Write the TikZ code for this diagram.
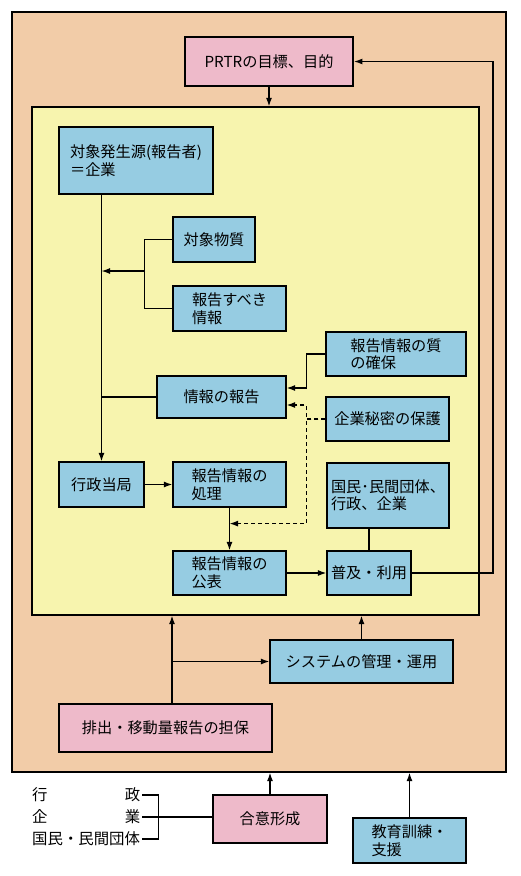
\documentclass[tikz,border=0pt]{standalone}
\usepackage{fontspec}
\setmainfont{Noto Sans CJK JP}
\usetikzlibrary{arrows.meta,positioning,calc}
\definecolor{outerpeach}{RGB}{242,204,168}
\definecolor{inneryellow}{RGB}{247,244,174}
\definecolor{boxblue}{RGB}{150,204,226}
\definecolor{boxpink}{RGB}{238,186,202}

\begin{document}
\begin{tikzpicture}[x=1pt, y=-1pt, >={Latex[length=8.5pt,width=6pt]},
    font=\fontsize{15.2}{17.5}\selectfont,
    block/.style={rectangle, draw, fill=boxblue, line width=1.2pt, align=left, inner sep=2pt},
    goal/.style={block, fill=boxpink, line width=1.9pt},
    frame/.style={rectangle, draw, line width=1.2pt, inner sep=0pt},
    line/.style={line width=1.3pt},
    side/.style={anchor=west, inner sep=0pt, font=\fontsize{15.4}{18}\selectfont}]
    \useasboundingbox (0,0) rectangle (520,876);
    \node [frame, fill=outerpeach, minimum width=494pt, minimum height=760pt] (outer) at (259,392) {};
    \node [frame, fill=inneryellow, minimum width=447pt, minimum height=508pt] (inner) at (255.5,361) {};
    \node [goal, minimum width=168pt, minimum height=49pt] (prtr) at (269,61.5) {PRTRの目標、目的};
    \node [block, minimum width=154pt, minimum height=67pt] (source) at (136,160.5) {対象発生源(報告者)\\＝企業};
    \node [block, minimum width=82pt, minimum height=45pt] (subst) at (214,239.5) {対象物質};
    \node [block, minimum width=113pt, minimum height=45pt] (repinfo) at (229.5,308.5) {報告すべき\\情報};
    \node [block, minimum width=140pt, minimum height=44pt] (quality) at (396,354) {報告情報の質\\の確保};
    \node [block, minimum width=129pt, minimum height=42pt] (report) at (221.5,397) {情報の報告};
    \node [block, minimum width=123pt, minimum height=44pt] (secret) at (387.5,419) {企業秘密の保護};
    \node [block, minimum width=85pt, minimum height=45pt] (admin) at (101.5,484.5) {行政当局};
    \node [block, minimum width=113pt, minimum height=45pt] (process) at (229.5,484.5) {報告情報の\\処理};
    \node [block, minimum width=122pt, minimum height=65pt] (citizens) at (388,495.5) {国民･民間団体、\\行政、企業};
    \node [block, minimum width=113pt, minimum height=44pt] (public) at (229.5,573) {報告情報の\\公表};
    \node [block, minimum width=84pt, minimum height=44pt] (use) at (369,573) {普及・利用};
    \node [block, minimum width=183pt, minimum height=43pt] (system) at (361.5,661.5) {システムの管理・運用};
    \node [goal, minimum width=213pt, minimum height=48pt] (emission) at (165.5,728) {排出・移動量報告の担保};
    \node [goal, minimum width=114pt, minimum height=48pt] (consensus) at (270,819) {合意形成};
    \node [block, minimum width=113pt, minimum height=45pt] (edu) at (409.5,840.5) {教育訓練・\\支援};
    \node [side] (gyosei) at (32,795) {\makebox[108pt][l]{行\hfill 政}};
    \node [side] (kigyo) at (32,817) {\makebox[108pt][l]{企\hfill 業}};
    \node [side] (kokumin) at (32,839) {\makebox[108pt][l]{国民・民間団体}};
    \coordinate (fb) at (493,573);
    \coordinate (sbr) at (145,271);
    \coordinate (emup) at ($(emission.north)+(6.5,0)$);
    \draw[line, ->] (prtr.south) -- (prtr.south |- inner.north);
    \draw[line, ->] (use.east) -- (fb) |- (prtr.east);
    \draw[line, ->] (admin.north |- source.south) -- (admin.north);
    \draw[line] (subst.west) -- ++(-28,0) |- (repinfo.west);
    \draw[line, ->] (sbr) -- (sbr -| admin.north);
    \draw[line width=1.9pt] (report.west) -- (report.west -| admin.north);
    \draw[line, ->] (quality.west) -- ++(-19,0) |- ($(report.east)+(0,-9)$);
    \draw[line, dash pattern=on 4pt off 3pt, ->] (secret.west) -- ++(-19,0) |- ($(report.east)+(0,8)$);
    \draw[line, dash pattern=on 4pt off 3pt, ->] (secret.west) -- ++(-19,0) |- ($(process.south)+(0,16)$);
    \draw[line, ->] (admin) -- (process);
    \draw[line, ->] (process) -- (public);
    \draw[line, ->] (public) -- (use);
    \draw[line] (use.north |- citizens.south) -- (use.north);
    \draw[line, ->] (emup) -- (emup |- inner.south);
    \draw[line, ->] (emup |- system.west) -- (system.west);
    \draw[line, ->] (system.north) -- (system.north |- inner.south);
    \draw[line, ->] (consensus.north) -- (consensus.north |- outer.south);
    \draw[line, ->] (edu.north) -- (edu.north |- outer.south);
    \draw[line] ([xshift=2pt]gyosei.east) -- ++(16,0) |- ([xshift=2pt]kokumin.east);
    \draw[line] ([xshift=2pt]kigyo.east) -- (kigyo.east -| consensus.west);
\end{tikzpicture}
\end{document}
